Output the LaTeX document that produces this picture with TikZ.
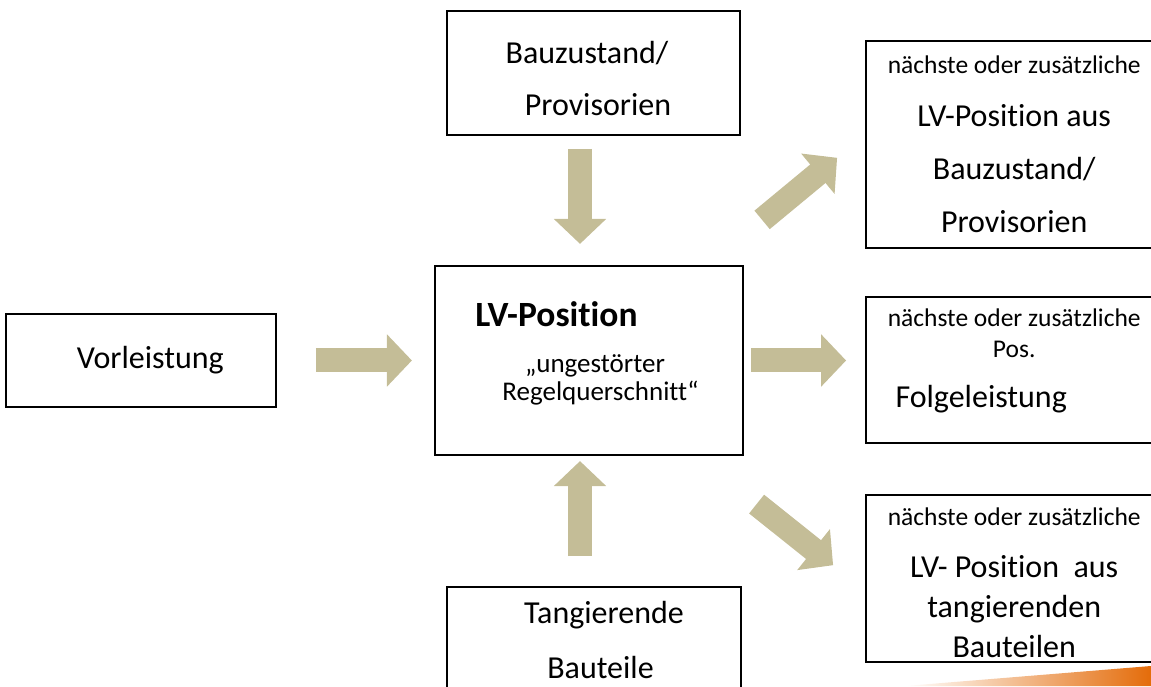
\documentclass[tikz,border=0pt]{standalone}
\usepackage{fontspec}
\setmainfont{Carlito}[Ligatures=NoCommon]
\usepackage{tikz}
\usetikzlibrary{arrows.meta,positioning}
\definecolor{ArrowTan}{HTML}{C4BD97}
\definecolor{SwooshOrange}{HTML}{E46C0A}
\newcommand{\boxbig}{\fontsize{32}{53}\selectfont}
\newcommand{\boxsmall}{\fontsize{25.5}{31}\selectfont}

\begin{document}
\begin{tikzpicture}[x=1pt,y=1pt,
  box/.style={draw=black,line width=2.2pt,inner sep=0pt,align=center,font=\boxbig},
  fatarrow/.style={draw=ArrowTan,line width=24pt,-{Triangle[length=25pt,width=51pt]}}]
\clip (0,0) rectangle (1151,686);
% centre
\node[box,minimum width=308pt,minimum height=189pt,font=\fontsize{27}{28}\selectfont] (lv) at (589,325.5)
  {\textbf{\fontsize{35.5}{36}\selectfont LV-Position}\hspace*{65pt}\\[18pt]
   \hspace*{12pt}„ungestörter\\
   \hspace*{23pt}Regelquerschnitt“\rule[-19pt]{0pt}{19pt}};
% left, top, bottom
\node[box,minimum width=270pt,minimum height=93pt,left=157pt of lv] (vor) {\hspace*{19pt}Vorleistung};
\node[box,minimum width=293pt,minimum height=124pt,font=\fontsize{32}{52}\selectfont,above=129pt of lv,xshift=4.5pt] (bau)
  {\rule{0pt}{33pt}Bauzustand/\hspace*{13pt}\\ \hspace*{9pt}Provisorien};
\node[box,minimum width=294pt,minimum height=106.6pt,font=\fontsize{32}{55}\selectfont,below=130pt of lv,xshift=5pt] (tan)
  {\hspace*{20pt}Tangierende\\ \hspace*{13pt}Bauteile};
% right column
\node[box,minimum width=296pt,minimum height=146pt,font=\fontsize{32}{31}\selectfont,right=121pt of lv,yshift=-9.5pt] (nfolge)
  {{\boxsmall nächste oder zusätzliche}\\ {\boxsmall Pos.}\\[19pt] Folgeleistung\hspace*{66pt}\rule[-23pt]{0pt}{23pt}};
\node[box,minimum width=296pt,minimum height=207pt,above=47pt of nfolge] (nbau)
  {{\boxsmall nächste oder zusätzliche}\\ LV-Position aus\\ Bauzustand/\\ Provisorien};
\node[box,minimum width=296pt,minimum height=167pt,font=\fontsize{32}{40}\selectfont,below=50pt of nfolge] (ntan)
  {\rule{0pt}{25pt}{\boxsmall nächste oder zusätzliche}\\[12pt] LV- Position\ \ aus\\ tangierenden\\ Bauteilen};
% arrows
\draw[fatarrow,shorten <=39pt,shorten >=22pt] (vor) -- (lv);
\draw[fatarrow,shorten <=13pt,shorten >=21pt] ([xshift=-13.5pt]bau.south) -- ([xshift=-9pt]lv.north);
\draw[fatarrow,shorten <=30pt,shorten >=5pt] ([xshift=-14pt]tan.north) -- ([xshift=-9pt]lv.south);
\draw[fatarrow,shorten <=7pt,shorten >=19pt] (lv.east) -- (lv.east -| nfolge.west);
\draw[fatarrow] ([shift={(18,45)}]lv.north east) -- ([shift={(-28,-13.5)}]nbau.west);
\draw[fatarrow] ([shift={(12.5,-48)}]lv.south east) -- ([shift={(-32,13.5)}]ntan.west);
% corner swoosh
\shade[left color=white,middle color=SwooshOrange!75,right color=SwooshOrange] (905,0) -- (1151,20) -- (1151,0) -- cycle;
\end{tikzpicture}
\end{document}
